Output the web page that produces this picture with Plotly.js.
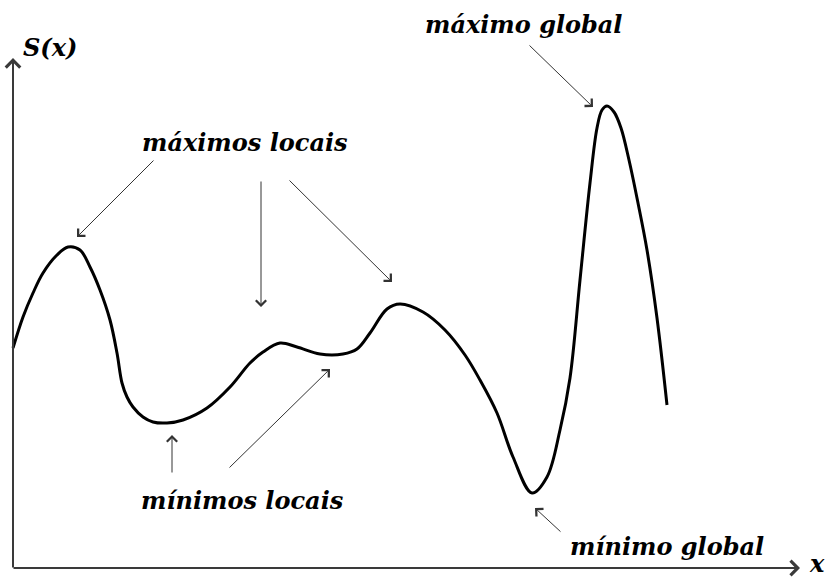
<!DOCTYPE html>
<html>
<head>
<meta charset="utf-8">
<script src="https://cdn.plot.ly/plotly-3.0.1.min.js"></script>
<style>
  html, body { margin: 0; padding: 0; background: #ffffff; }
  #chart { width: 836px; height: 581px; }
</style>
</head>
<body>
<div id="chart"></div>
<script>
// Curve S(x): sampled points along the function
const curveX = [0, 10, 20, 30, 44, 55, 67, 77, 87, 97, 104, 109, 114, 120, 130, 140, 154, 170, 194, 217, 237, 250,
                267, 284, 307, 330, 344, 357, 374, 387, 410, 432, 452, 467, 484, 500, 519, 534, 547,
                557, 567, 577, 584, 589, 594, 601, 608, 616, 625, 634, 644, 654];
const curveY = [220, 251, 275, 295, 313, 321, 318, 301, 278, 248, 215, 185, 171, 161, 151, 146, 145, 148, 160, 181, 205, 216,
                225, 221, 214, 214, 219, 235, 259, 264, 256, 238, 213, 188, 155, 111, 75, 91, 138,
                190, 288, 385, 440, 458, 462, 456, 440, 408, 365, 318, 250, 163];

// Axis extents
const axisOrigin = [0, 0];
const yAxisTop = 510;
const xAxisEnd = 787;

// Labels: text, centre x, centre y
const labelText = ["máximos locais", "máximo global", "mínimos locais", "mínimo global", "S(x)", "x"];
const labelX = [232, 510, 229, 654, 37, 804];
const labelY = [426, 544, 68, 22, 521, 5];

// Pointer arrows: tail (x, y) -> head (x, y)
const arrowTailX = [142, 248, 275, 515, 159, 215, 549];
const arrowTailY = [409, 388, 389, 524, 94, 99, 35];
const arrowHeadX = [64, 248, 379, 580, 159, 317, 522];
const arrowHeadY = [331, 261, 286, 461, 133, 199, 60];

const traces = [{
  x: curveX,
  y: curveY,
  type: 'scatter',
  mode: 'lines',
  line: { color: '#000000', width: 3, shape: 'spline', smoothing: 1 },
  hoverinfo: 'skip'
}];

const textFont = { family: 'DejaVu Serif', size: 24, color: '#000000', weight: 'bold', style: 'italic' };

const annotations = [];

// Coordinate axes drawn as arrows
annotations.push({
  x: axisOrigin[0], y: yAxisTop, ax: axisOrigin[0], ay: axisOrigin[1] - 1,
  xref: 'x', yref: 'y', axref: 'x', ayref: 'y',
  text: '', showarrow: true, arrowhead: 4, arrowsize: 1.4, arrowwidth: 2, arrowcolor: '#3a3a3a', standoff: 0
});
annotations.push({
  x: xAxisEnd, y: axisOrigin[1], ax: axisOrigin[0] - 1, ay: axisOrigin[1],
  xref: 'x', yref: 'y', axref: 'x', ayref: 'y',
  text: '', showarrow: true, arrowhead: 4, arrowsize: 1.4, arrowwidth: 2, arrowcolor: '#3a3a3a', standoff: 0
});

// Pointers from the labels to the extrema
for (let i = 0; i < arrowTailX.length; i++) {
  annotations.push({
    x: arrowHeadX[i], y: arrowHeadY[i], ax: arrowTailX[i], ay: arrowTailY[i],
    xref: 'x', yref: 'y', axref: 'x', ayref: 'y',
    text: '', showarrow: true, arrowhead: 4, arrowsize: 2, arrowwidth: 1, arrowcolor: '#333333', standoff: 0
  });
}

for (let i = 0; i < labelText.length; i++) {
  annotations.push({
    x: labelX[i], y: labelY[i], xref: 'x', yref: 'y',
    text: labelText[i], showarrow: false,
    xanchor: 'center', yanchor: 'middle', borderpad: 0,
    font: textFont
  });
}

const layout = {
  width: 836,
  height: 581,
  margin: { l: 0, r: 0, t: 0, b: 0 },
  paper_bgcolor: '#ffffff',
  plot_bgcolor: '#ffffff',
  showlegend: false,
  xaxis: { range: [-13, 823], visible: false, fixedrange: true },
  yaxis: { range: [-13, 568], visible: false, fixedrange: true },
  annotations: annotations
};

Plotly.newPlot('chart', traces, layout, { displayModeBar: false, staticPlot: true });
</script>
</body>
</html>
